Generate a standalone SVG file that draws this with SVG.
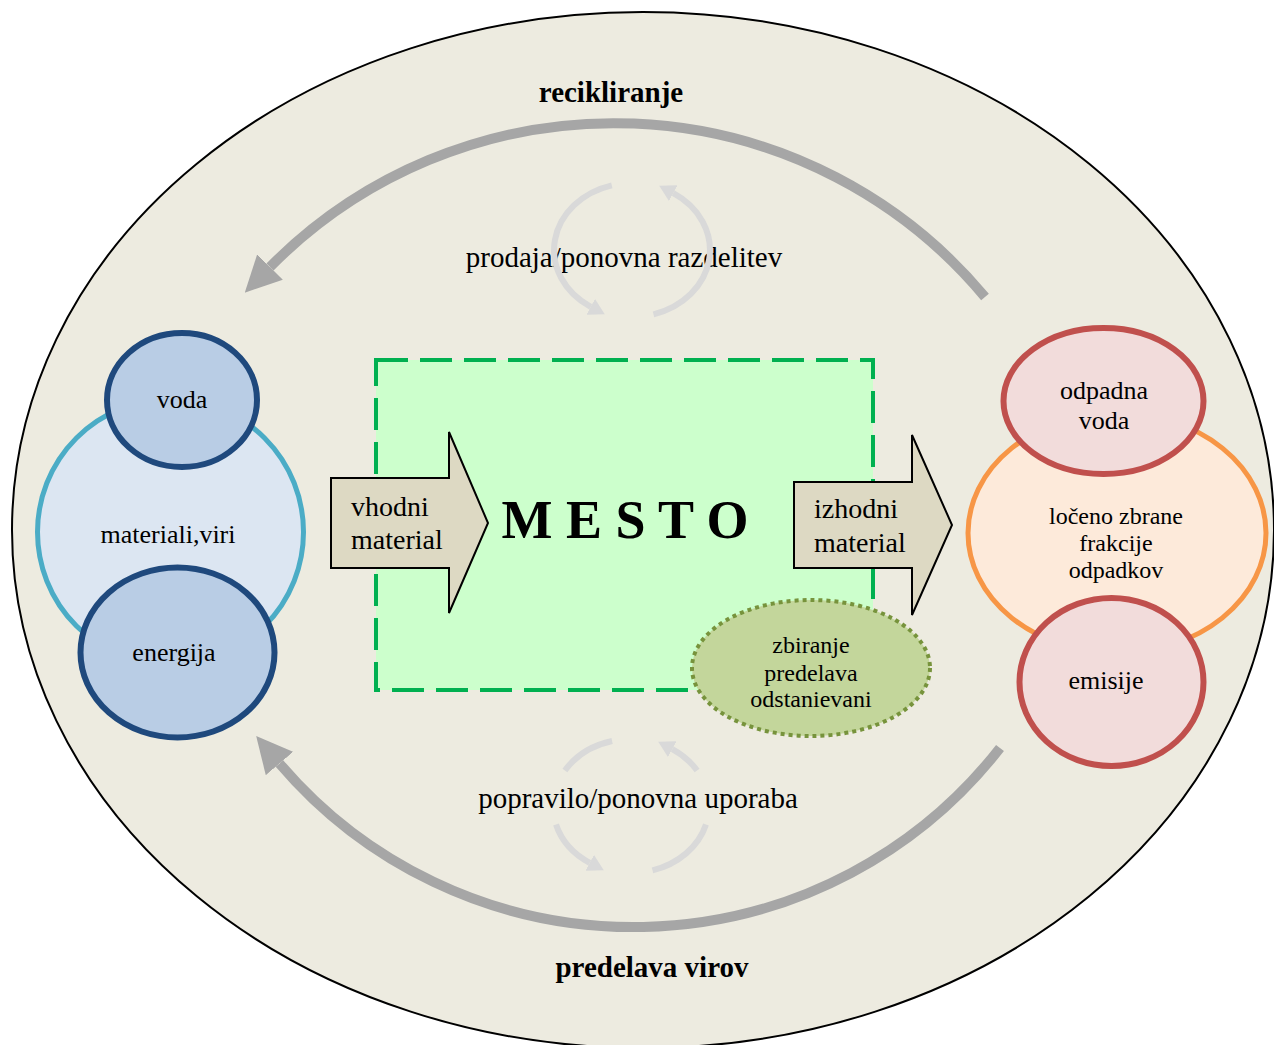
<svg xmlns="http://www.w3.org/2000/svg" width="1274" height="1045" viewBox="0 0 1274 1045">
  <defs>
    <style>
      text { font-family: "Liberation Serif", "Times New Roman", serif; fill: #000; }
      .lbl { font-size: 29px; text-anchor: middle; }
      .bold { font-weight: bold; }
      .node-txt { font-size: 26px; text-anchor: middle; }
      .small-txt { font-size: 24px; text-anchor: middle; }
      .arrow-txt { font-size: 28px; }
      .big-flow { fill: none; stroke: #A6A6A6; stroke-width: 10; }
      .loop { fill: none; stroke: #D9D9D9; stroke-width: 6; }
      .block-arrow { fill: #DDD9C3; stroke: #000; stroke-width: 2; stroke-linejoin: miter; }
      .res-main { fill: #DCE6F2; stroke: #4BACC6; stroke-width: 5; }
      .res-sub { fill: #B9CDE5; stroke: #1F497D; stroke-width: 6; }
      .out-main { fill: #FDEADA; stroke: #F79646; stroke-width: 5; }
      .out-sub { fill: #F2DCDB; stroke: #C0504D; stroke-width: 6; }
    </style>
    <marker id="bigHead" markerUnits="userSpaceOnUse" viewBox="0 0 36 36" refX="0" refY="18" markerWidth="36" markerHeight="36" orient="auto">
      <path d="M0,0 L36,18 L0,36 z" fill="#A6A6A6"/>
    </marker>
    <marker id="loopHead" markerUnits="userSpaceOnUse" viewBox="0 0 16 18" refX="0" refY="9" markerWidth="16" markerHeight="18" orient="auto">
      <path d="M0,0 L16,9 L0,18 z" fill="#D9D9D9"/>
    </marker>
  </defs>

  <!-- outer boundary -->
  <ellipse id="boundary" cx="643" cy="530" rx="631" ry="518" fill="#EDEBE0" stroke="#000" stroke-width="2"/>

  <!-- flows -->
  <g id="connectors">
    <path class="big-flow" d="M 985 297 A 483 483 0 0 0 270 267" marker-end="url(#bigHead)"/>
    <path class="big-flow" d="M 1000 748 A 464.7 464.7 0 0 1 279.5 763.5" marker-end="url(#bigHead)"/>

    <!-- sale / redistribution loop -->
    <text class="lbl" x="624" y="267">prodaja/ponovna razdelitev</text>
    <path class="loop" d="M 611.8 185.3 A 78 67 0 0 0 590.7 306.8" marker-end="url(#loopHead)"/>
    <path class="loop" d="M 653.5 314.4 A 78 67 0 0 0 673.3 193.2" marker-end="url(#loopHead)"/>

    <!-- repair / reuse loop -->
    <path class="loop" d="M 612.1 741 A 78 67 0 0 0 564.9 770.5"/>
    <path class="loop" d="M 556 824.5 A 78 67 0 0 0 589.7 862.8" marker-end="url(#loopHead)"/>
    <path class="loop" d="M 652.5 870.4 A 78 67 0 0 0 706 824.5"/>
    <path class="loop" d="M 697.1 770.5 A 78 67 0 0 0 672.3 749.2" marker-end="url(#loopHead)"/>
    <text class="lbl" x="638" y="808">popravilo/ponovna uporaba</text>

    <text class="lbl bold" x="611" y="102">recikliranje</text>
    <text class="lbl bold" x="652" y="977">predelava virov</text>
  </g>

  <!-- city -->
  <g id="city">
    <rect x="376" y="360" width="497" height="330" fill="#CCFFCC" stroke="#00B050" stroke-width="4" stroke-dasharray="32 12"/>
    <text x="625" y="538" font-size="54" font-weight="bold" text-anchor="middle">M E S T O</text>
  </g>

  <g id="input-arrow">
    <path class="block-arrow" d="M 331 478 L 449 478 L 449 432 L 488 523 L 449 613 L 449 568 L 331 568 Z"/>
    <text class="arrow-txt" x="351" y="516">vhodni</text>
    <text class="arrow-txt" x="351" y="549">material</text>
  </g>

  <g id="output-arrow">
    <path class="block-arrow" d="M 794 482 L 912 482 L 912 435 L 952 525 L 912 615 L 912 568 L 794 568 Z"/>
    <text class="arrow-txt" x="814" y="518">izhodni</text>
    <text class="arrow-txt" x="814" y="552">material</text>
  </g>

  <g id="waste-handling">
    <ellipse cx="811" cy="668" rx="119" ry="68" fill="#C3D69B" stroke="#77933C" stroke-width="4" stroke-dasharray="4 4"/>
    <text class="small-txt" x="811" y="653">zbiranje</text>
    <text class="small-txt" x="811" y="681">predelava</text>
    <text class="small-txt" x="811" y="707">odstanievani</text>
  </g>

  <!-- inputs -->
  <g id="resources">
    <circle class="res-main" cx="170.5" cy="532" r="133"/>
    <text class="node-txt" x="168" y="543">materiali,viri</text>
  </g>
  <g id="water-in">
    <ellipse class="res-sub" cx="182" cy="400" rx="75" ry="67"/>
    <text class="node-txt" x="182" y="408">voda</text>
  </g>
  <g id="energy">
    <ellipse class="res-sub" cx="177.5" cy="652.5" rx="97" ry="85"/>
    <text class="node-txt" x="174" y="661">energija</text>
  </g>

  <!-- outputs -->
  <g id="separated-waste">
    <ellipse class="out-main" cx="1117" cy="533" rx="149" ry="120"/>
    <text class="small-txt" x="1116" y="524">ločeno zbrane</text>
    <text class="small-txt" x="1116" y="551">frakcije</text>
    <text class="small-txt" x="1116" y="578">odpadkov</text>
  </g>
  <g id="waste-water">
    <ellipse class="out-sub" cx="1103.5" cy="401" rx="100" ry="73"/>
    <text class="node-txt" x="1104" y="399">odpadna</text>
    <text class="node-txt" x="1104" y="429">voda</text>
  </g>
  <g id="emissions">
    <ellipse class="out-sub" cx="1111.5" cy="682" rx="92" ry="84"/>
    <text class="node-txt" x="1106" y="689">emisije</text>
  </g>
</svg>
